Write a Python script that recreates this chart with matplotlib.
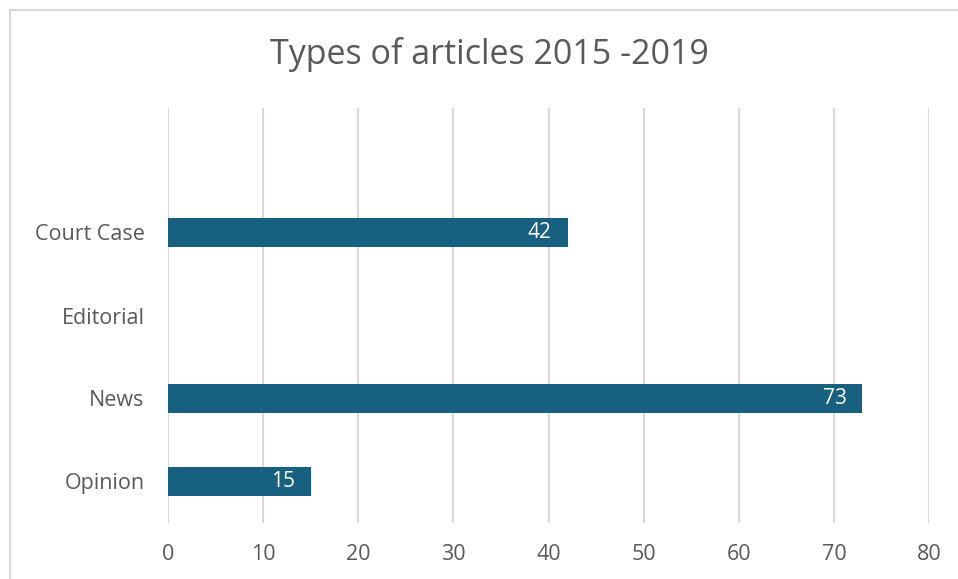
import matplotlib.pyplot as plt
from matplotlib.lines import Line2D
import numpy as np

# data (bottom to top, as drawn)
categorias = ["Opinion", "News", "Editorial", "Court Case", ""]
valores = [15, 73, 0, 42, np.nan]
x_ticks = [0, 10, 20, 30, 40, 50, 60, 70, 80]

COLOR_BAR = '#17607f'
COLOR_TXT = '#595959'
COLOR_GRID = '#d9d9d9'

plt.rcParams['font.family'] = ['Open Sans', 'DejaVu Sans']

fig = plt.figure(figsize=(9.58, 5.79), dpi=100)
ax = fig.add_axes([168/958, 56/579, (929-168)/958, (471-56)/579])

y = np.arange(len(categorias))
vals = np.nan_to_num(valores)
ax.barh(y, vals, height=0.34, color=COLOR_BAR, zorder=3)

# etiquetas dentro de la barra
for yi, v in zip(y, valores):
    if not np.isnan(v) and v > 0:
        ax.annotate(f"{v:g}", (v, yi), xytext=(-16, 0), textcoords='offset pixels',
                    ha='right', va='center', color='white', fontsize=15, zorder=4)

ax.set_xlim(0, 80)
ax.set_ylim(-0.5, len(categorias) - 0.5)
ax.set_xticks(x_ticks)
ax.set_yticks(y)
ax.set_yticklabels(categorias)
ax.tick_params(axis='both', length=0, labelsize=15.5, labelcolor=COLOR_TXT)
ax.tick_params(axis='y', pad=17)
ax.tick_params(axis='x', pad=15)
ax.grid(axis='x', color=COLOR_GRID, lw=1.5, zorder=0)
ax.set_axisbelow(True)
for s in ax.spines.values():
    s.set_visible(False)

fig.text(489/958, 1 - 55/579, "Types of articles 2015 -2019", ha='center', va='center',
         fontsize=24.5, color=COLOR_TXT)

# borde del área del gráfico (solo izquierda y arriba visibles)
fig.add_artist(Line2D([9.5/958, 9.5/958], [0, 1 - 9.5/579], color=COLOR_GRID, lw=1.5))
fig.add_artist(Line2D([9.5/958, 1], [1 - 9.5/579, 1 - 9.5/579], color=COLOR_GRID, lw=1.5))

fig.savefig("out.png", dpi=100)
